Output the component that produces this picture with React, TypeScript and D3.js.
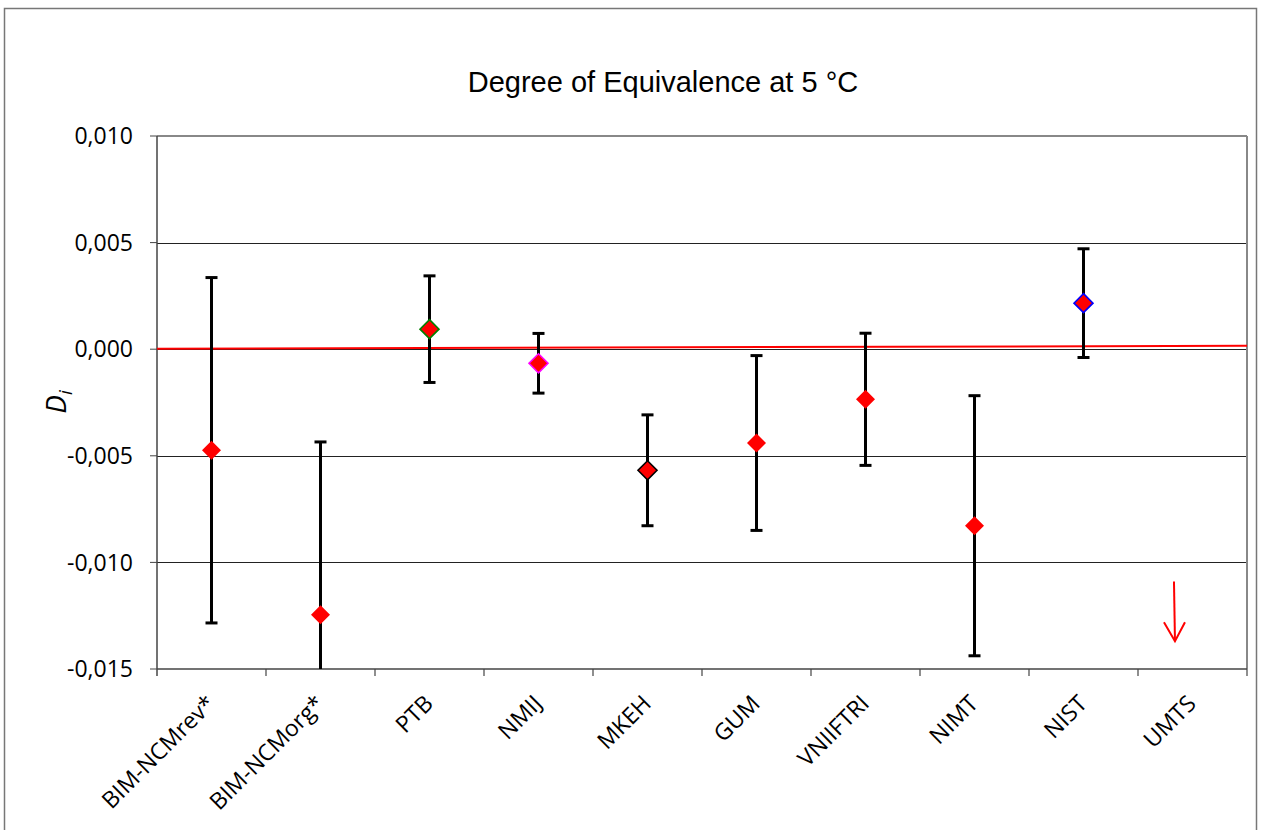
import * as d3 from "d3";

const labs = ["BIM-NCMrev*", "BIM-NCMorg*", "PTB", "NMIJ", "MKEH", "GUM", "VNIIFTRI", "NIMT", "NIST", "UMTS"];
// D_i values and expanded uncertainties (U), UMTS has no point in range
const di = [-0.00474, -0.01245, 0.00094, -0.00066, -0.00568, -0.0044, -0.00235, -0.00828, 0.00216, null];
const unc = [0.0081, 0.0081, 0.0025, 0.0014, 0.0026, 0.0041, 0.0031, 0.0061, 0.00255, null];
const edge = ["red", "red", "green", "magenta", "black", "red", "red", "red", "blue", null];
const yTicks = [0.01, 0.005, 0, -0.005, -0.01, -0.015];
const refLine = [0.00002, 0.00016];
const umtsArrow = { from: -0.0109, to: -0.0137 };

const W = 1265;
const H = 830;
const m = { left: 157, right: 1247, top: 136, bottom: 669 };

const loc = d3.formatLocale({ decimal: ",", thousands: ".", grouping: [3], currency: ["", ""], minus: "-" });
const fmt = loc.format(".3f");

export default function App() {
  const x = d3.scaleBand<string>().domain(labs).range([m.left, m.right]);
  const y = d3.scaleLinear().domain([-0.015, 0.01]).range([m.bottom, m.top]);
  const bw = x.bandwidth();
  const ax = (x("UMTS") ?? 0) + bw * 0.33;
  const font = "'Open Sans', sans-serif";

  return (
    <svg width={W} height={H} style={{ position: "absolute", left: 0, top: 0, background: "#fff" }}>
      <defs>
        <clipPath id="plot">
          <rect x={m.left} y={m.top} width={m.right - m.left} height={m.bottom - m.top} />
        </clipPath>
      </defs>
      <rect x={4.5} y={8.5} width={1252} height={840} fill="#fff" stroke="#777" strokeWidth={1.5} />

      <text x={663} y={92} textAnchor="middle" fontFamily="'Liberation Sans', Arial, sans-serif" fontSize={29}>
        Degree of Equivalence at 5 °C
      </text>

      {/* gridlines */}
      {yTicks.slice(1, -1).map((t) => (
        <line key={t} x1={m.left} x2={m.right} y1={Math.round(y(t)) + 0.5} y2={Math.round(y(t)) + 0.5} stroke="#222" strokeWidth={1} />
      ))}
      {/* plot frame */}
      <line x1={m.left} x2={m.right} y1={m.top} y2={m.top} stroke="#888" strokeWidth={2} />
      <line x1={m.right} x2={m.right} y1={m.top} y2={m.bottom} stroke="#888" strokeWidth={2} />
      <line x1={m.left} x2={m.left} y1={m.top} y2={m.bottom + 7} stroke="#444" strokeWidth={1.5} />
      <line x1={m.left} x2={m.right} y1={m.bottom} y2={m.bottom} stroke="#444" strokeWidth={1.5} />

      {/* y ticks */}
      {yTicks.map((t) => (
        <g key={t}>
          <line x1={m.left - 7} x2={m.left} y1={y(t)} y2={y(t)} stroke="#444" strokeWidth={1} />
          <text x={133} y={y(t)} dy="0.36em" textAnchor="end" fontFamily={font} fontSize={23}>
            {fmt(t)}
          </text>
        </g>
      ))}

      {/* x ticks and labels */}
      {labs.map((c) => (
        <line key={c} x1={(x(c) ?? 0) + bw} x2={(x(c) ?? 0) + bw} y1={m.bottom} y2={m.bottom + 7} stroke="#444" strokeWidth={1.2} />
      ))}
      {labs.map((c) => {
        const cx = (x(c) ?? 0) + bw / 2 + 5;
        const cy = m.bottom + 36;
        return (
          <text key={c} x={cx} y={cy} textAnchor="end" transform={`rotate(-45 ${cx} ${cy})`} fontFamily={font} fontSize={23}>
            {c}
          </text>
        );
      })}

      {/* axis title */}
      <text transform="translate(66,402) rotate(-90)" textAnchor="middle" fontFamily={font} fontSize={28} fontStyle="italic">
        D<tspan fontSize={19} dy={6}>i</tspan>
      </text>

      {/* reference line */}
      <line x1={m.left} x2={m.right} y1={y(refLine[0])} y2={y(refLine[1])} stroke="red" strokeWidth={2} />

      {/* error bars */}
      <g clipPath="url(#plot)">
        {labs.map((c, i) => {
          const v = di[i];
          const u = unc[i];
          if (v === null || u === null) return null;
          const cx = (x(c) ?? 0) + bw / 2;
          return (
            <g key={c} stroke="#000" strokeWidth={3}>
              <line x1={cx} x2={cx} y1={y(v + u)} y2={y(v - u)} />
              <line x1={cx - 6} x2={cx + 6} y1={y(v + u)} y2={y(v + u)} />
              <line x1={cx - 6} x2={cx + 6} y1={y(v - u)} y2={y(v - u)} />
            </g>
          );
        })}
        {labs.map((c, i) => {
          const v = di[i];
          if (v === null) return null;
          const cx = (x(c) ?? 0) + bw / 2;
          const cy = y(v);
          const r = 9.5;
          return (
            <path
              key={c}
              d={`M${cx},${cy - r}L${cx + r},${cy}L${cx},${cy + r}L${cx - r},${cy}Z`}
              fill="red"
              stroke={edge[i] ?? "red"}
              strokeWidth={edge[i] === "red" ? 0 : 1.6}
            />
          );
        })}
      </g>

      {/* UMTS off-scale arrow */}
      <g stroke="red" strokeWidth={2} fill="none">
        <line x1={ax} x2={ax + 1} y1={y(umtsArrow.from)} y2={y(umtsArrow.to)} />
        <polyline points={`${ax - 10},${y(umtsArrow.to) - 19} ${ax + 1},${y(umtsArrow.to)} ${ax + 11},${y(umtsArrow.to) - 19}`} />
      </g>
    </svg>
  );
}
